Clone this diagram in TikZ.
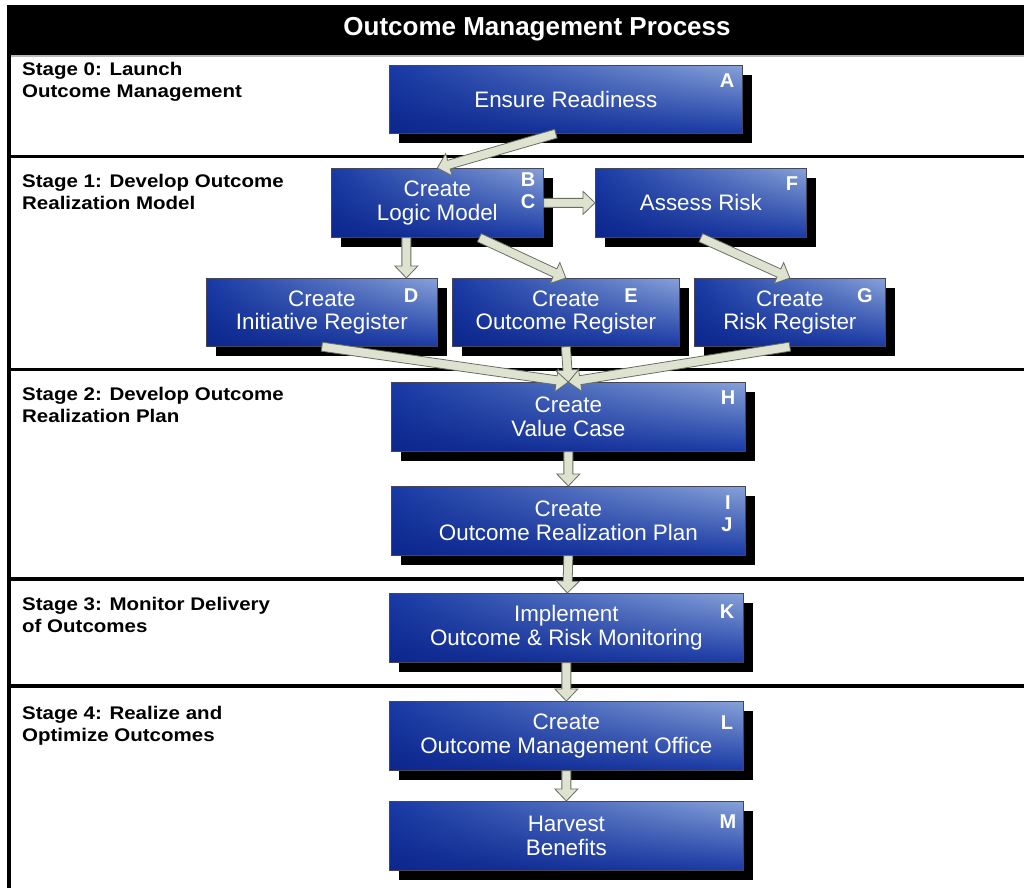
\documentclass[tikz,border=0pt]{standalone}
\usepackage{fontspec}
\setmainfont{Liberation Sans}
\newfontfamily\stagefont[FakeStretch=1.12]{Liberation Sans}
\usetikzlibrary{calc,shadows,shadings}
\definecolor{bUL}{RGB}{24,58,165}
\definecolor{bUR}{RGB}{135,162,216}
\definecolor{bLL}{RGB}{12,38,140}
\definecolor{bLR}{RGB}{26,58,165}
\definecolor{boxline}{RGB}{70,70,90}
\definecolor{arrfill}{RGB}{222,226,208}
\definecolor{arrline}{RGB}{105,110,95}
\tikzset{
  box/.style={anchor=north west, draw=boxline, line width=0.7pt,
    upper left=bUL, upper right=bUR, lower left=bLL, lower right=bLR,
    text=white, align=center, inner sep=0pt,
    font=\fontsize{22.4}{23.5}\selectfont,
    drop shadow={shadow xshift=10pt, shadow yshift=-10pt, fill=black, opacity=1}},
  letter/.style={text=white, inner sep=0pt, font=\bfseries\fontsize{20}{20}\selectfont},
  stage/.style={anchor=north west, inner sep=0pt, align=left,
    font=\stagefont\bfseries\fontsize{18.3}{21.8}\selectfont},
  sepline/.style={line width=3.5pt, black},
  arrowsty/.style={draw=arrline, fill=arrfill, line width=0.8pt, line join=miter}
}
\newcommand\blockarrow[2]{%
  \coordinate (ba-s) at (#1);
  \coordinate (ba-e) at (#2);
  \coordinate (ba-h) at ($(ba-e)!12pt!(ba-s)$);
  \draw[arrowsty] ($(ba-s)!4.5pt!90:(ba-e)$) -- ($(ba-h)!4.5pt!-90:(ba-s)$)
    -- ($(ba-h)!11.5pt!-90:(ba-s)$) -- (ba-e) -- ($(ba-h)!11.5pt!90:(ba-s)$)
    -- ($(ba-h)!4.5pt!90:(ba-s)$) -- ($(ba-s)!4.5pt!-90:(ba-e)$) -- cycle;}
\begin{document}
\begin{tikzpicture}[x=1pt,y=-1pt]
\useasboundingbox (0,0) rectangle (1024,888);
\fill[white] (0,0) rectangle (1024,888);
% frame
\fill[black] (7,5) rectangle (1024,55);
\draw[gray!55, line width=1.5pt] (7,56) -- (1024,56);
\node[text=white, font=\bfseries\fontsize{26}{28}\selectfont] (title) at (537,29) {Outcome Management Process};
\draw[line width=4pt] (9,5) -- (9,888);
\draw[sepline] (7,156.5) -- (1024,156.5);
\draw[sepline] (7,369.5) -- (1024,369.5);
\draw[sepline] (7,579) -- (1024,579);
\draw[sepline] (7,686) -- (1024,686);
% stage labels
\node[stage] (s0) at (22,62.5) {Stage 0: Launch\\Outcome Management};
\node[stage] (s1) at (22,174.5) {Stage 1: Develop Outcome\\Realization Model};
\node[stage] (s2) at (22,387.5) {Stage 2: Develop Outcome\\Realization Plan};
\node[stage] (s3) at (22,597.5) {Stage 3: Monitor Delivery\\of Outcomes};
\node[stage] (s4) at (22,706.5) {Stage 4: Realize and\\Optimize Outcomes};
% boxes
\node[box, minimum width=353pt, minimum height=68pt] (A) at (389,65) {Ensure Readiness};
\node[box, minimum width=212pt, minimum height=69pt] (BC) at (331,168) {Create\\Logic Model};
\node[box, minimum width=211pt, minimum height=69pt] (F) at (595,168) {Assess Risk};
\node[box, minimum width=231pt, minimum height=68pt] (D) at (206,278) {Create\\Initiative Register};
\node[box, minimum width=227pt, minimum height=68pt] (E) at (452,278) {Create\\Outcome Register};
\node[box, minimum width=191pt, minimum height=68pt] (G) at (694,278) {Create\\Risk Register};
\node[box, minimum width=354pt, minimum height=69pt] (H) at (391,382) {Create\\Value Case};
\node[box, minimum width=354pt, minimum height=69pt] (IJ) at (391,486) {Create\\Outcome Realization Plan};
\node[box, minimum width=354pt, minimum height=69pt] (K) at (389,593) {Implement\\Outcome \& Risk Monitoring};
\node[box, minimum width=354pt, minimum height=69pt] (L) at (389,701) {Create\\Outcome Management Office};
\node[box, minimum width=354pt, minimum height=69pt] (M) at (389,801) {Harvest\\Benefits};
% letters
\node[letter] (lA) at (727,81) {A};
\node[letter] (lB) at (528,180) {B};
\node[letter] (lC) at (528,202) {C};
\node[letter] (lF) at (792,184) {F};
\node[letter] (lD) at (411,296) {D};
\node[letter] (lE) at (631,296) {E};
\node[letter] (lG) at (865,296) {G};
\node[letter] (lH) at (728,398) {H};
\node[letter] (lI) at (728,503) {I};
\node[letter] (lJ) at (727,525) {J};
\node[letter] (lK) at (727,612) {K};
\node[letter] (lL) at (727,723) {L};
\node[letter] (lM) at (728,822) {M};
% arrows
\blockarrow{$(A.south)+(-10,0)$}{BC.north}
\blockarrow{BC.east}{F.west}
\blockarrow{$(BC.south)+(-31,0)$}{$(D.north)+(84.5,0)$}
\blockarrow{$(BC.south)+(42,0)$}{E.north}
\blockarrow{F.south}{G.north}
\blockarrow{D.south}{H.north}
\blockarrow{G.south}{H.north}
\blockarrow{E.south}{H.north}
\blockarrow{H.south}{IJ.north}
\blockarrow{IJ.south}{$(K.north)+(1,0)$}
\blockarrow{K.south}{L.north}
\blockarrow{L.south}{M.north}
\end{tikzpicture}
\end{document}
